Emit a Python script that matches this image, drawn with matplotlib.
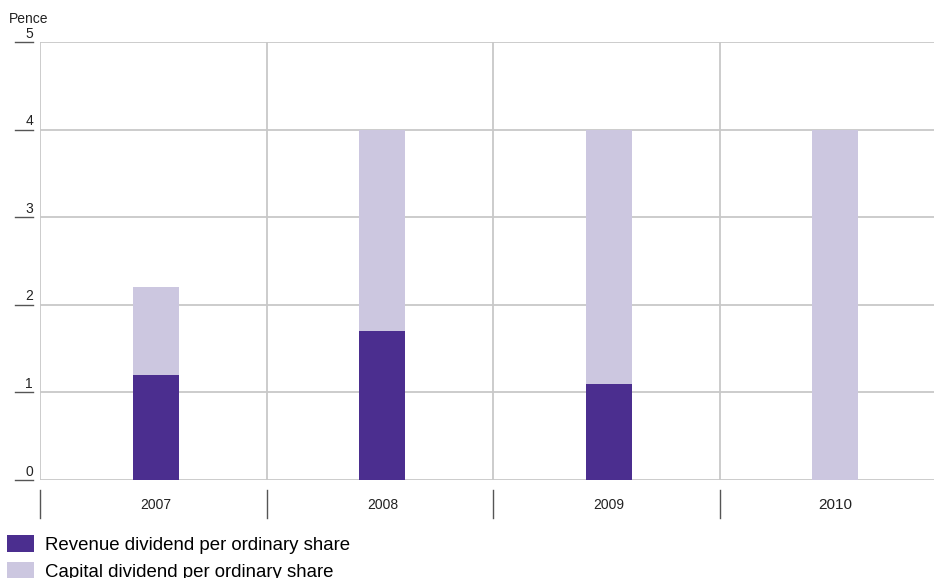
import matplotlib
matplotlib.use('Agg')
import matplotlib.pyplot as plt
import matplotlib.transforms as mtransforms

plt.rcParams['font.family'] = ['Liberation Sans', 'DejaVu Sans']

# chart data
years = ['2007', '2008', '2009', '2010']
revenue = [1.2, 1.7, 1.1, 0.0]
capital = [1.0, 2.3, 2.9, 4.0]
yticks = [0, 1, 2, 3, 4, 5]

dark = '#4b2e8f'
light = '#ccc7e0'
grid = '#c8c8c8'

W, H = 934, 578
fig = plt.figure(figsize=(W / 100, H / 100), dpi=100)
# plot area in pixels: left 40, top 42, bottom 480, category width ~226.5
ax = fig.add_axes([40 / W, (H - 480) / H, 906 / W, (480 - 42) / H])

x = [i + 0.012 for i in range(len(years))]
ax.bar(x, revenue, width=46 / 226.5, color=dark, label='Revenue dividend per ordinary share', zorder=3)
ax.bar(x, capital, width=46 / 226.5, bottom=revenue, color=light, label='Capital dividend per ordinary share', zorder=3)

ax.set_xlim(-0.5, len(years) - 0.5)
ax.set_ylim(0, 5)
for s in ax.spines.values():
    s.set_visible(False)
ax.set_xticks([])
ax.set_yticks([])

for v in yticks:
    ax.axhline(v, color=grid, lw=1.3, zorder=1)
for i in range(len(years)):
    ax.axvline(i - 0.5, color=grid, lw=1.3, zorder=1)

# y labels with short underline to the left of the axis
trans = mtransforms.blended_transform_factory(ax.transAxes, ax.transData)
for v in yticks:
    ax.plot([-25 / 906, -7 / 906], [v, v], transform=trans, color='#555555', lw=1, clip_on=False)
    ax.annotate(str(v), xy=(-7 / 906, v), xycoords=trans, xytext=(0, 1), textcoords='offset points',
                ha='right', va='bottom', fontsize=10, color='#222222')
ax.text(-31 / 906, 1 + 16 / 438, 'Pence', transform=ax.transAxes, ha='left', va='bottom',
        fontsize=10, color='#222222')

# category separators and year labels below the axis
transx = mtransforms.blended_transform_factory(ax.transData, ax.transAxes)
for i, yr in enumerate(years):
    ax.plot([i - 0.5, i - 0.5], [-10 / 438, -38 / 438], transform=transx, color='#555555', lw=1, clip_on=False)
    ax.text(i + 0.012, -25 / 438, yr, transform=transx, ha='center', va='center',
            fontsize=11 if yr == '2010' else 10, color='#222222')

fig.legend(loc='upper left', bbox_to_anchor=(3 / W, 1 - 531 / H), frameon=False, fontsize=13.4,
           handlelength=1.45, handleheight=1.05, handletextpad=0.6, labelspacing=0.42,
           borderaxespad=0, borderpad=0.2)

fig.savefig('out.png', dpi=100)
